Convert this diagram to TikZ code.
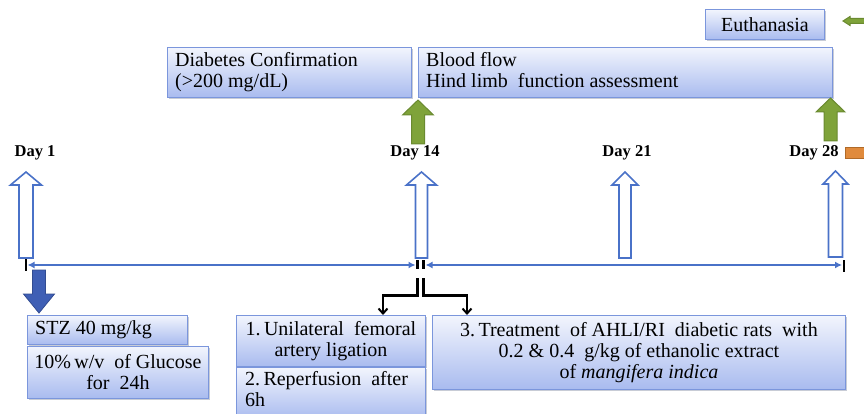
\documentclass[tikz,border=0pt]{standalone}
\usepackage{fontspec}
\setmainfont{Liberation Serif}[Ligatures=TeX]
\newfontfamily\tnr{Liberation Serif}[Ligatures=TeX]
\usetikzlibrary{arrows.meta,shadows}
\definecolor{boxedge}{HTML}{7B96DC}
\definecolor{boxtop}{HTML}{F2F5FD}
\definecolor{boxbot}{HTML}{A9BBEF}
\definecolor{lineblue}{HTML}{4A72C8}
\definecolor{grfill}{HTML}{7FA33A}
\definecolor{gredge}{HTML}{6A8A30}
\definecolor{dkblue}{HTML}{3F5FB5}
\definecolor{orfill}{HTML}{E08A3C}
\definecolor{oredge}{HTML}{B06A28}
\definecolor{shad}{HTML}{C8CCD6}
\tikzset{
  gbox/.style={draw=boxedge, line width=0.9pt, top color=boxtop, bottom color=boxbot,
    drop shadow={shadow xshift=1.2pt, shadow yshift=-1.2pt, opacity=1, fill=shad, draw=none}},
  txt/.style={font=\tnr\fontsize{20}{21}\selectfont, inner sep=0pt},
  daylab/.style={font=\tnr\fontsize{16.5}{18}\selectfont\bfseries, inner sep=0pt},
  hollow/.style={draw=lineblue, line width=1.6pt, fill=white},
  greenarr/.style={draw=gredge, line width=1pt, fill=grfill},
  tl/.style={draw=lineblue, line width=1.8pt, {Latex[length=7pt,width=7pt]}-{Latex[length=7pt,width=7pt]}},
  tick/.style={draw=black, line width=2.6pt},
  bk/.style={draw=black, line width=2.4pt, -{Straight Barb[length=5pt,width=9pt,line width=2pt]}}
}
% up arrow polygon: style, center x, tip y, head base y, bottom y, body half, head half
\newcommand{\uparr}[7]{\path[#1] (#2-#6,#5) -- (#2-#6,#4) -- (#2-#7,#4) -- (#2,#3) -- (#2+#7,#4) -- (#2+#6,#4) -- (#2+#6,#5) -- cycle;}
\begin{document}
\begin{tikzpicture}[x=1pt,y=-1pt]
\useasboundingbox (0,0) rectangle (864,414);
% top boxes
\node[gbox, minimum width=244pt, minimum height=50pt, anchor=north west] (diab) at (167,47) {};
\node[txt, anchor=north west, align=left] (diabt) at (175,52) {Diabetes Confirmation\\(>200 mg/dL)};
\node[gbox, minimum width=414pt, minimum height=50pt, anchor=north west] (blood) at (418,47) {};
\node[txt, anchor=north west, align=left] (bloodt) at (426,52) {Blood flow\\Hind limb\ \ function assessment};
\node[gbox, minimum width=119pt, minimum height=30pt, anchor=north west] (euth) at (705,9) {};
\node[txt] (eutht) at (euth.center) {Euthanasia};
% top-right green left arrow (cut off)
\path[greenarr] (843,21) -- (850,16.5) -- (850,18.5) -- (866,18.5) -- (866,23.5) -- (850,23.5) -- (850,25.5) -- cycle;
% green up arrows
\uparr{greenarr}{418}{100}{115}{144}{6.5}{15.5}
\uparr{greenarr}{830.5}{98}{112}{141}{6.5}{14.5}
% orange rect
\node[draw=oredge, fill=orfill, line width=1pt, minimum width=22pt, minimum height=11pt, inner sep=0pt, anchor=north west] (orng) at (845,147) {};
% day labels
\node[daylab] (d1) at (35,153) {Day 1};
\node[daylab] (d14) at (415,153) {Day 14};
\node[daylab] (d21) at (627,153) {Day 21};
\node[daylab] (d28) at (814,153) {Day 28};
% hollow arrows
\uparr{hollow}{26}{172}{185}{258}{7}{15.5}
\uparr{hollow}{421.5}{172}{185}{258}{6}{15}
\uparr{hollow}{625}{172}{185}{258}{6}{13}
\uparr{hollow}{835.5}{171}{184}{257}{7}{12.5}
% ticks
\coordinate (t1) at (26,265);
\coordinate (t14a) at (417.5,265);
\coordinate (t14b) at (423.5,265);
\coordinate (t28) at (844,265);
\draw[tick] (26,259) -- (26,271);
\draw[tick] (417.5,260) -- (417.5,269);
\draw[tick] (423.5,260) -- (423.5,269);
\draw[tick] (844,260) -- (844,272);
% timeline
\draw[tl] ([xshift=1.5pt]t1) -- ([xshift=-2pt]t14a);
\draw[tl] ([xshift=2pt]t14b) -- ([xshift=-2pt]t28);
% dark blue down arrow
\path[draw=dkblue!80!black, line width=0.8pt, fill=dkblue] (32.5,270) -- (45.5,270) -- (45.5,294) -- (54.5,294) -- (39,313) -- (23.5,294) -- (32.5,294) -- cycle;
% bottom boxes
\node[gbox, minimum width=160pt, minimum height=29pt, anchor=north west] (stz) at (27,315) {};
\node[txt, anchor=west] (stzt) at (35,330) {STZ 40 mg/kg};
\node[gbox, minimum width=181pt, minimum height=52pt, anchor=north west] (gluc) at (27,346) {};
\node[txt, align=center] (gluct) at (gluc.center) {10\%\,w/v\ \ of Glucose\\for\ \ 24h};
\node[gbox, minimum width=189pt, minimum height=51pt, anchor=north west] (unil) at (236,315) {};
\node[txt, align=center] (unilt) at (unil.center) {1.\,Unilateral\ \ femoral\\artery ligation};
\node[gbox, minimum width=189pt, minimum height=52pt, anchor=north west] (rep) at (236,367) {};
\node[txt, anchor=north west, align=left] (rept) at (245,371) {2.\,Reperfusion\ \ after\\6h};
\node[gbox, minimum width=413pt, minimum height=74pt, anchor=north west] (treat) at (432,315) {};
\node[txt, align=center] (treatt) at (treat.center) {3.\,Treatment\ \ of AHLI/RI\ \ diabetic rats\ \ with\\0.2 \& 0.4\ \ g/kg of ethanolic extract\\of \textit{mangifera indica}};
% black connectors
\draw[bk] (417.5,278) -- (417.5,295.5) -- (383,295.5) -- (unil.north -| 383,0);
\draw[bk] (423.5,278) -- (423.5,295.5) -- (467,295.5) -- (treat.north -| 467,0);
\end{tikzpicture}
\end{document}
